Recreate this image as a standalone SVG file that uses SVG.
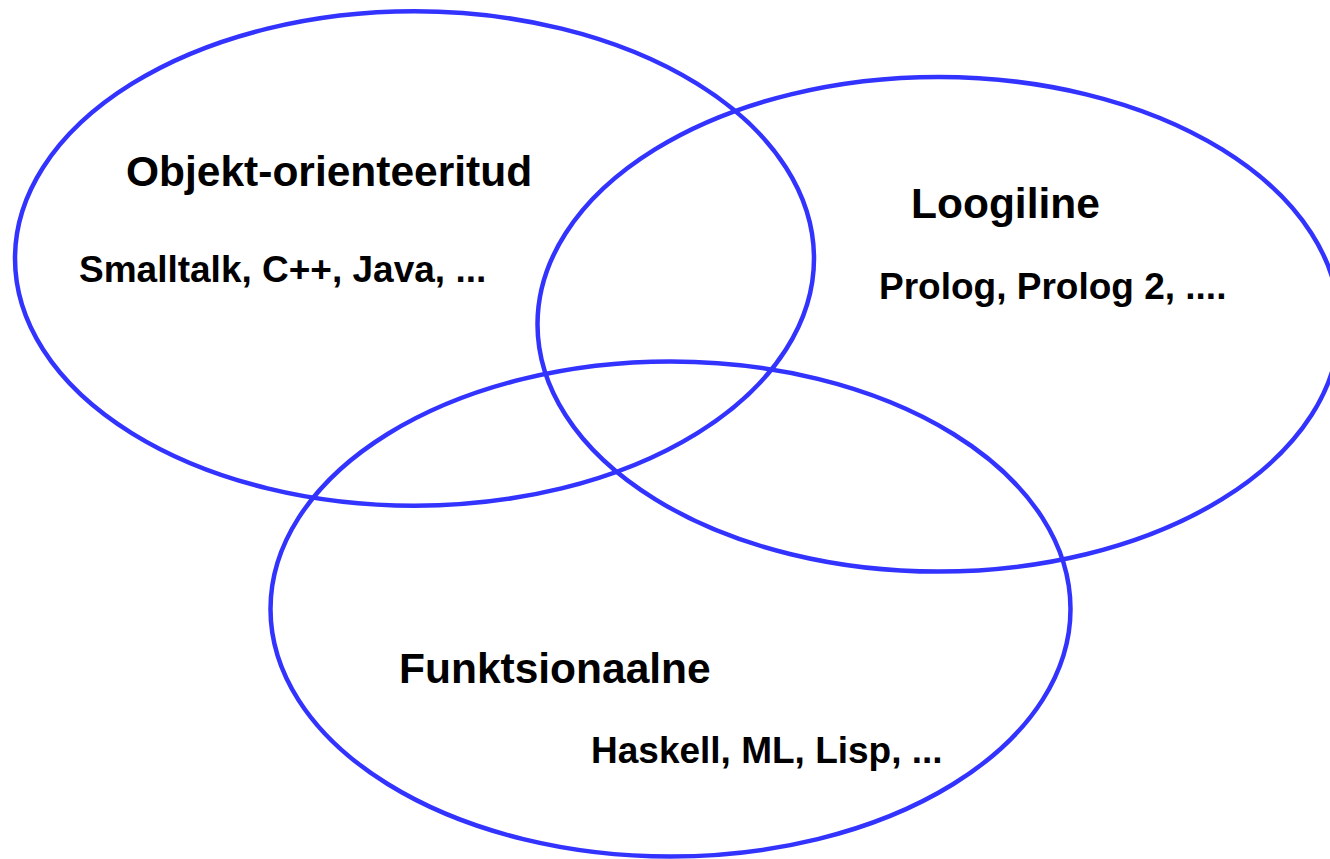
<svg xmlns="http://www.w3.org/2000/svg" width="1330" height="859" viewBox="0 0 1330 859">
<style>
.set{fill:none;stroke:#3333ff;stroke-width:4.5}
.t{font-family:"Liberation Sans",Arial,sans-serif;font-weight:bold;fill:#000}
.h{font-size:42.5px}
.s{font-size:37px}
</style>
<rect width="1330" height="859" fill="#fff"/>
<g id="oop">
<ellipse class="set" cx="414.5" cy="258.5" rx="399.5" ry="247.2"/>
<text class="t h" x="126" y="186">Objekt-orienteeritud</text>
<text class="t s" x="79" y="282">Smalltalk, C++, Java, ...</text>
</g>
<g id="logic">
<ellipse class="set" cx="938.5" cy="324.3" rx="401" ry="247.3"/>
<text class="t h" x="911" y="218">Loogiline</text>
<text class="t s" x="879" y="299">Prolog, Prolog 2, ....</text>
</g>
<g id="functional">
<ellipse class="set" cx="670.5" cy="609" rx="400" ry="247.5"/>
<text class="t h" x="399" y="683">Funktsionaalne</text>
<text class="t s" x="591" y="763">Haskell, ML, Lisp, ...</text>
</g>
<g id="connectors"/>
</svg>
